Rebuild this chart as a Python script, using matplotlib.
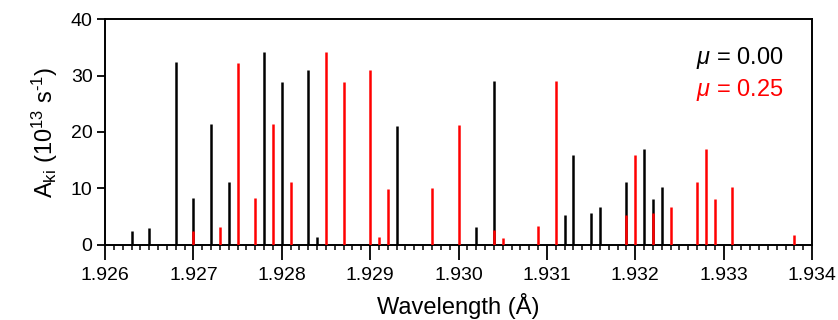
#!/usr/bin/env python3
"""Line strengths A_ki vs wavelength for mu = 0.00 and mu = 0.25."""

import matplotlib
matplotlib.use("Agg")
import matplotlib.pyplot as plt
from matplotlib.ticker import MultipleLocator

plt.rcParams["font.family"] = ["Liberation Sans", "DejaVu Sans"]
plt.rcParams["mathtext.fontset"] = "custom"
plt.rcParams["mathtext.rm"] = "Liberation Sans"
plt.rcParams["mathtext.it"] = "Liberation Sans:italic"

# mu = 0.00 (black)
wl_mu0 = [1.9263, 1.9265, 1.9268, 1.9270, 1.9272, 1.9274, 1.9278, 1.9280,
          1.9283, 1.9284, 1.9293, 1.9302, 1.9304, 1.9312, 1.9313, 1.9315,
          1.9316, 1.9319, 1.9321, 1.9322, 1.9323]
a_mu0 = [2.5, 3.0, 32.4, 8.3, 21.5, 11.2, 34.1, 28.8,
         31.0, 1.5, 21.1, 3.2, 29.1, 5.3, 15.9, 5.6,
         6.8, 11.1, 17.0, 8.1, 10.2]

# mu = 0.25 (red)
wl_mu25 = [1.9270, 1.9273, 1.9275, 1.9277, 1.9279, 1.9281, 1.9285, 1.9287,
           1.9290, 1.9291, 1.9292, 1.9297, 1.9300, 1.9304, 1.9305, 1.9309,
           1.9311, 1.9319, 1.9320, 1.9322, 1.9324, 1.9327, 1.9328, 1.9329,
           1.9331, 1.9338]
a_mu25 = [2.5, 3.1, 32.3, 8.3, 21.4, 11.2, 34.1, 28.8,
          31.0, 1.5, 9.9, 10.0, 21.2, 2.6, 1.2, 3.3,
          29.1, 5.3, 15.9, 5.7, 6.8, 11.1, 17.0, 8.1,
          10.2, 1.7]

x_ticks = [1.926, 1.927, 1.928, 1.929, 1.930, 1.931, 1.932, 1.933, 1.934]
y_ticks = [0, 10, 20, 30, 40]


def main():
    fig = plt.figure(figsize=(8.38, 3.2), dpi=100)
    ax = fig.add_axes([0.1253, 0.2344, 0.8437, 0.7062])

    ax.vlines(wl_mu0, 0, a_mu0, color="black", linewidth=1.8, zorder=2)
    ax.vlines(wl_mu25, 0, a_mu25, color="red", linewidth=1.8, zorder=3)

    ax.set_xlim(1.926, 1.934)
    ax.set_ylim(0, 40)
    ax.set_xticks(x_ticks)
    ax.set_xticklabels([f"{v:.3f}" for v in x_ticks])
    ax.set_yticks(y_ticks)
    ax.xaxis.set_minor_locator(MultipleLocator(0.0001))

    ax.tick_params(axis="x", which="major", direction="out", length=11,
                   width=1.3, labelsize=14, pad=5)
    ax.tick_params(axis="x", which="minor", direction="out", length=3.5,
                   width=1.1)
    ax.tick_params(axis="y", which="major", direction="out", length=6,
                   width=1.3, labelsize=14, pad=3)
    for spine in ax.spines.values():
        spine.set_linewidth(1.4)

    ax.set_xlabel("Wavelength (Å)", fontsize=17, labelpad=6)
    ax.set_ylabel(r"A$_{\mathrm{ki}}$ (10$^{13}$ s$^{\text{-1}}$)",
                  fontsize=17, labelpad=8)

    ax.text(0.959, 0.827, r"$\mu$ = 0.00", transform=ax.transAxes,
            ha="right", va="center", fontsize=17, color="black")
    ax.text(0.959, 0.686, r"$\mu$ = 0.25", transform=ax.transAxes,
            ha="right", va="center", fontsize=17, color="red")

    fig.savefig("out.png", dpi=100)


if __name__ == "__main__":
    main()
